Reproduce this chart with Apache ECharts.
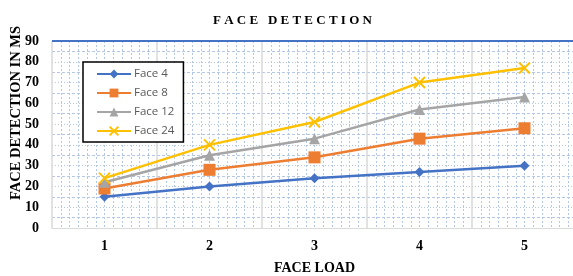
<!DOCTYPE html>
<html>
<head>
<meta charset="utf-8">
<script src="https://cdn.jsdelivr.net/npm/echarts@6/dist/echarts.min.js"></script>
<style>
  html, body { margin: 0; padding: 0; background: #fff; }
  #chart { width: 573px; height: 276px; }
</style>
</head>
<body>
<div id="chart"></div>
<script>
const categories = ['1', '2', '3', '4', '5']
const face4 = [15, 20, 24, 27, 30]
const face8 = [19, 28, 34, 43, 48]
const face12 = [22, 35, 43, 57, 63]
const face24 = [24, 40, 51, 70, 77]
const serif = '"Liberation Serif", "DejaVu Serif", serif'

const chart = echarts.init(document.getElementById('chart'))

function line (name, data, color, symbol, size) {
  return {
    name: name,
    type: 'line',
    data: data,
    symbol: symbol,
    symbolSize: size,
    lineStyle: { color: color, width: 2.5 },
    itemStyle: { color: color },
    z: 5
  }
}

const options = {
  animation: false,
  title: {
    text: 'F A C E   D E T E C T I O N',
    left: 208,
    top: 9,
    textStyle: { fontFamily: serif, fontSize: 13, fontWeight: 'bold', color: '#000' }
  },
  legend: {
    orient: 'vertical',
    left: 83,
    top: 62,
    padding: [6, 9, 5, 13],
    itemWidth: 34,
    itemHeight: 11,
    itemGap: 7,
    backgroundColor: '#fff',
    borderColor: '#000',
    borderWidth: 1.5,
    textStyle: { fontFamily: '"Open Sans", "Noto Sans", sans-serif', fontSize: 11.5, color: '#595959', padding: [0, 0, 0, -2] },
    data: ['Face 4', 'Face 8', 'Face 12', 'Face 24']
  },
  grid: { left: 52, top: 41, width: 525, height: 187, outerBoundsMode: 'none' },
  xAxis: [
    {
      type: 'category',
      data: categories,
      boundaryGap: true,
      name: 'FACE LOAD',
      nameLocation: 'middle',
      nameGap: 33,
      nameMoveOverlap: false,
      nameTextStyle: { fontFamily: serif, fontSize: 14, fontWeight: 'bold', color: '#000' },
      axisLine: { lineStyle: { color: '#d9d9d9', width: 1 } },
      axisTick: { show: false },
      axisLabel: { fontFamily: serif, fontSize: 14, fontWeight: 'bold', color: '#000', margin: 11 },
      splitLine: { show: true, lineStyle: { color: '#d9d9d9', width: 1.5 } },
      z: 3
    },
    {
      type: 'value',
      min: 0,
      max: 5,
      interval: 1,
      show: true,
      position: 'top',
      axisLine: { show: false },
      axisTick: { show: false },
      axisLabel: { show: false },
      splitLine: { show: false },
      minorTick: { show: false, splitNumber: 12 },
      minorSplitLine: { show: true, lineStyle: { color: '#b4c7e7', type: [2, 2], width: 1 } }
    }
  ],
  yAxis: {
    type: 'value',
    min: 0,
    max: 90,
    interval: 10,
    name: 'FACE DETECTION IN MS',
    nameLocation: 'middle',
    nameGap: 28,
    nameMoveOverlap: false,
    nameTextStyle: { fontFamily: serif, fontSize: 14.5, fontWeight: 'bold', color: '#000', padding: [0, 0, 0, 43] },
    axisLine: { show: false },
    axisTick: { show: false },
    axisLabel: { fontFamily: serif, fontSize: 14, fontWeight: 'bold', color: '#000', margin: 13 },
    splitLine: { show: true, lineStyle: { color: '#b4c7e7', type: [1, 2], width: 1 } },
    minorTick: { show: false, splitNumber: 2 },
    minorSplitLine: { show: true, lineStyle: { color: '#b4c7e7', type: [3, 2], width: 1 } }
  },
  series: [
    line('Face 4', face4, '#4472c4', 'diamond', 10),
    line('Face 8', face8, '#ed7d31', 'rect', 12),
    line('Face 12', face12, '#a5a5a5', 'triangle', 11),
    line('Face 24', face24, '#ffc000', 'path://M0,0 L10,10 M10,0 L0,10', 11),
    {
      type: 'line',
      data: [[0, 90], [5, 90]],
      xAxisIndex: 1,
      symbol: 'none',
      silent: true,
      lineStyle: { color: '#4472c4', width: 2 },
      z: 4
    }
  ]
}

// cross marker for Face 24 needs a stroke
options.series[3].itemStyle = { color: '#ffc000', borderColor: '#ffc000', borderWidth: 2 }

chart.setOption(options)
</script>
</body>
</html>
